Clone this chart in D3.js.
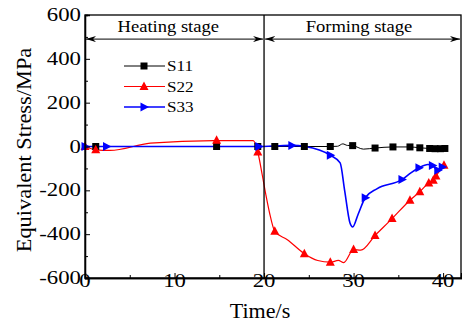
<!DOCTYPE html>
<html>
<head>
<meta charset="utf-8">
<script src="https://cdn.jsdelivr.net/npm/d3@7"></script>
<style>
  body { margin: 0; background: #fff; }
  text { font-family: "Liberation Serif", "Times New Roman", serif; fill: #000; }
</style>
</head>
<body>
<svg id="chart"></svg>
<script>
// stress vs time, heating + forming stages

const xTicks = [0, 10, 20, 30, 40];
const yTicks = [-600, -400, -200, 0, 200, 400, 600];
const xMinor = [5, 15, 25, 35];
const yMinor = [-500, -300, -100, 100, 300, 500];

const stageBoundary = 20;
const stageArrowLevel = 490;
const stageLabels = [
  { name: "Heating stage", t: 9.3 },
  { name: "Forming stage", t: 30.6 }
];

const s11Line = [
  [0, 0], [1.2, 0], [14.7, 0], [19.3, 0], [21.2, 0], [24.5, 0], [27.4, 0],
  [28.2, 1], [28.8, 12], [29.3, 5], [29.9, 4], [31.1, -12], [32.4, -7],
  [34.4, -2], [36.3, -2], [37.4, -6], [38.5, -9], [39.1, -10], [39.7, -10], [40.2, -9]
];
const s11Markers = [
  [1.2, 0], [14.7, 0], [19.3, 0], [21.2, 0], [24.5, 0], [27.4, 0], [29.9, 4],
  [32.4, -7], [34.4, -2], [36.3, -2], [37.4, -6], [38.5, -9], [39.1, -10], [39.7, -10], [40.2, -9]
];

const s22Line = [
  [0, 0], [1.2, -15], [2.8, -18], [7.3, 15], [14.4, 27], [18.8, 27], [19.3, -25],
  [19.8, -130], [20.2, -220], [20.6, -300], [21.2, -387], [22.6, -425], [24.5, -489],
  [26, -520], [27.4, -528], [28.3, -520], [28.9, -530], [30.0, -470], [30.8, -473],
  [32.4, -406], [34.3, -329], [36.3, -245], [37.4, -206], [38.4, -166], [38.9, -154],
  [39.2, -135], [40.1, -86]
];
const s22Markers = [
  [0, 0], [1.2, -15], [14.7, 28], [19.3, -25], [21.2, -387], [24.5, -489], [27.4, -528],
  [30.0, -470], [32.4, -406], [34.3, -329], [36.3, -245], [37.4, -206], [38.4, -166],
  [38.9, -154], [39.2, -135], [40.1, -86]
];

const s33Line = [
  [0, 0], [2.4, 0], [19.4, 0], [21, 2], [23.1, 5], [24.6, 0], [27.4, -40], [28.5, -75],
  [29.0, -200], [29.6, -349], [29.9, -367], [30.5, -310], [31.3, -234], [32.6, -193],
  [35.4, -151], [36.4, -120], [37.3, -97], [38.3, -82], [38.8, -87], [39.4, -108],
  [39.9, -93], [40.4, -93]
];
const s33Markers = [
  [0, 0], [2.4, 0], [19.4, 0], [23.1, 5], [27.4, -40], [31.3, -234], [35.4, -151],
  [37.3, -97], [38.8, -87], [39.4, -108], [39.9, -93]
];

const series = [
  { name: "S11", color: "#000", line: s11Line, markers: s11Markers, shape: "square", width: 1 },
  { name: "S22", color: "#ff0000", line: s22Line, markers: s22Markers, shape: "up", width: 1.2 },
  { name: "S33", color: "#0000ff", line: s33Line, markers: s33Markers, shape: "right", width: 1.6 }
];

const W = 462, H = 323;
const plot = { left: 85, right: 461, top: 15, bottom: 278 };

const svg = d3.select("#chart").attr("width", W).attr("height", H);

const x = d3.scaleLinear().domain([0, 42]).range([plot.left, plot.right]);
const y = d3.scaleLinear().domain([-600, 600]).range([plot.bottom, plot.top]);

// shapes
function markerPath(shape) {
  if (shape === "square") return "M-3.5,-3.5H3.5V3.5H-3.5Z";
  if (shape === "up") return "M0,-5L4.5,3.5L-4.5,3.5Z";
  return "M-3.5,-4.5L5,0L-3.5,4.5Z";
}

function stretchedText(g, str, px, py, size, sx, anchor) {
  return g.append("text")
    .attr("transform", `translate(${px},${py}) scale(${sx},1)`)
    .attr("text-anchor", anchor || "start")
    .style("font-size", size + "px")
    .text(str);
}

// arrowheads
const defs = svg.append("defs");
defs.append("marker")
  .attr("id", "arrowEnd")
  .attr("viewBox", "0 0 10 6")
  .attr("refX", 10).attr("refY", 3)
  .attr("markerWidth", 10).attr("markerHeight", 6)
  .attr("markerUnits", "userSpaceOnUse")
  .attr("orient", "auto")
  .append("path").attr("d", "M0,0L10,3L0,6L3,3Z").attr("fill", "#000");
defs.append("marker")
  .attr("id", "arrowStart")
  .attr("viewBox", "0 0 10 6")
  .attr("refX", 0).attr("refY", 3)
  .attr("markerWidth", 10).attr("markerHeight", 6)
  .attr("markerUnits", "userSpaceOnUse")
  .attr("orient", "auto")
  .append("path").attr("d", "M10,0L0,3L10,6L7,3Z").attr("fill", "#000");

// data lines
const line = d3.line()
  .x(d => x(d[0]))
  .y(d => y(d[1]))
  .curve(d3.curveMonotoneX);

series.forEach(s => {
  svg.append("path")
    .datum(s.line)
    .attr("fill", "none")
    .attr("stroke", s.color)
    .attr("stroke-width", s.width)
    .attr("d", line);
});

series.forEach(s => {
  svg.append("g").selectAll("path")
    .data(s.markers)
    .join("path")
    .attr("transform", d => `translate(${x(d[0])},${y(d[1])})`)
    .attr("d", markerPath(s.shape))
    .attr("fill", s.color);
});

// stage divider + arrows
svg.append("line")
  .attr("x1", x(stageBoundary)).attr("x2", x(stageBoundary))
  .attr("y1", plot.top).attr("y2", plot.bottom)
  .attr("stroke", "#000").attr("stroke-width", 1.3);

[[0, stageBoundary], [stageBoundary, 42]].forEach(([a, b]) => {
  svg.append("line")
    .attr("x1", x(a) + 1).attr("x2", x(b) - 1)
    .attr("y1", y(stageArrowLevel)).attr("y2", y(stageArrowLevel))
    .attr("stroke", "#000").attr("stroke-width", 1)
    .attr("marker-start", "url(#arrowStart)")
    .attr("marker-end", "url(#arrowEnd)");
});

stageLabels.forEach(l => {
  stretchedText(svg, l.name, x(l.t), 32, 16, 1.16, "middle");
});

// frame
svg.append("rect")
  .attr("x", plot.left).attr("y", plot.top)
  .attr("width", plot.right - plot.left).attr("height", plot.bottom - plot.top)
  .attr("fill", "none").attr("stroke", "#000").attr("stroke-width", 1.3);

// axes with inward ticks
const xAxis = svg.append("g").attr("transform", `translate(0,${plot.bottom})`)
  .call(d3.axisBottom(x).tickValues(xTicks).tickSize(-5).tickFormat(""));
const xAxisMinor = svg.append("g").attr("transform", `translate(0,${plot.bottom})`)
  .call(d3.axisBottom(x).tickValues(xMinor).tickSize(-3).tickFormat(""));
const yAxis = svg.append("g").attr("transform", `translate(${plot.left},0)`)
  .call(d3.axisLeft(y).tickValues(yTicks).tickSize(-5).tickFormat(""));
const yAxisMinor = svg.append("g").attr("transform", `translate(${plot.left},0)`)
  .call(d3.axisLeft(y).tickValues(yMinor).tickSize(-3).tickFormat(""));
[xAxis, xAxisMinor, yAxis, yAxisMinor].forEach(g => {
  g.select(".domain").attr("stroke-width", 1.3);
  g.selectAll(".tick line").attr("stroke-width", 1);
});

xTicks.forEach(t => stretchedText(svg, t, x(t), 287, 19, 1.2, "middle"));
yTicks.forEach(v => stretchedText(svg, v, plot.left - 4, y(v) + 6, 19, 1.2, "end"));

// axis titles
stretchedText(svg, "Time/s", 260, 318, 21, 1.05, "middle");
svg.append("text")
  .attr("transform", `translate(31,150) rotate(-90) scale(1.12,1)`)
  .attr("text-anchor", "middle")
  .style("font-size", "20px")
  .text("Equivalent Stress/MPa");

// legend
const legend = svg.append("g");
series.forEach((s, i) => {
  const ly = 66 + i * 20.5;
  legend.append("line")
    .attr("x1", 124).attr("x2", 165)
    .attr("y1", ly).attr("y2", ly)
    .attr("stroke", s.color).attr("stroke-width", s.width);
  legend.append("path")
    .attr("transform", `translate(144,${ly})`)
    .attr("d", markerPath(s.shape))
    .attr("fill", s.color);
  stretchedText(legend, s.name, 167, ly + 5, 15, 1.14, "start");
});
</script>
</body>
</html>
